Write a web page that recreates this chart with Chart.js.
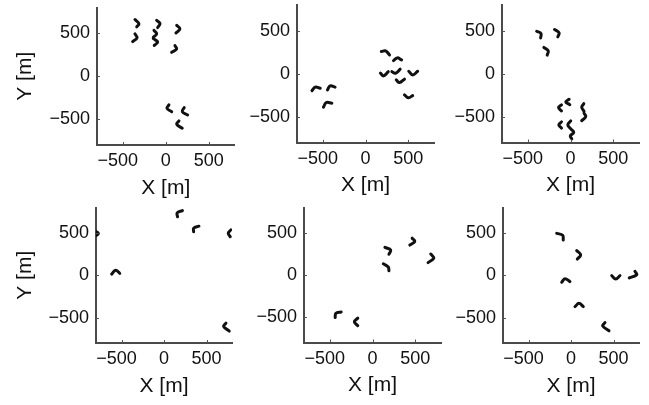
<!DOCTYPE html>
<html><head><meta charset="utf-8">
<script src="https://cdn.jsdelivr.net/npm/chart.js@4.4.1/dist/chart.umd.min.js"></script>
<style>
html,body{margin:0;padding:0;background:#fff;}
#wrap{position:relative;width:649px;height:405px;overflow:hidden;background:#fff;}
canvas{position:absolute;left:0;top:0;}
</style></head><body><div id="wrap">
<canvas id="c1" width="649" height="405"></canvas>
<canvas id="c2" width="649" height="405"></canvas>
<canvas id="c3" width="649" height="405"></canvas>
<canvas id="c4" width="649" height="405"></canvas>
<canvas id="c5" width="649" height="405"></canvas>
<canvas id="c6" width="649" height="405"></canvas>
</div>
<script>
// ---- data (metres) ----
const tickValues = [-500, 0, 500];
const tickLabels = ['\u2212500', '0', '500'];
const axisMin = -800, axisMax = 800;
const xTitle = 'X [m]';
const yTitle = 'Y [m]';

// each panel: list of short trajectory arcs, each arc = list of [x, y] points
const panel1 = [
  [[-358,660],[-312,610],[-338,575]],
  [[-358,493],[-335,446],[-385,403]],
  [[-106,652],[-67,613],[-94,566]],
  [[-137,535],[-106,493],[-145,453]],
  [[-145,438],[-94,399],[-134,359]],
  [[127,593],[165,551],[119,505]],
  [[107,356],[127,318],[69,278]],
  [[37,-333],[14,-372],[69,-413]],
  [[215,-365],[192,-411],[255,-450]],
  [[154,-520],[127,-558],[192,-605]]
];
const panel2 = [
  [[-625,-194],[-587,-154],[-529,-166]],
  [[-444,-186],[-413,-139],[-355,-154]],
  [[-491,-386],[-459,-333],[-393,-340]],
  [[185,259],[235,267],[281,220]],
  [[327,154],[371,186],[421,162]],
  [[174,8],[212,-23],[266,26]],
  [[308,27],[351,8],[405,55]],
  [[359,-70],[397,-101],[455,-61]],
  [[505,31],[551,-12],[609,31]],
  [[455,-244],[501,-278],[551,-252]]
];
const panel3 = [
  [[-395,495],[-345,469],[-349,417]],
  [[-186,515],[-133,476],[-148,429]],
  [[-311,306],[-260,267],[-272,217]],
  [[-105,-363],[-140,-394],[-105,-433]],
  [[-16,-297],[-55,-328],[-8,-360]],
  [[155,-348],[131,-390],[158,-436]],
  [[158,-459],[178,-499],[131,-545]],
  [[-105,-560],[-136,-595],[-105,-633]],
  [[3,-549],[-31,-595],[3,-641],[38,-682],[-2,-723],[15,-757]]
];
const panel4 = [
  [[-830,535],[-771,493],[-830,450]],
  [[-616,14],[-570,60],[-520,22]],
  [[217,764],[155,737],[159,690]],
  [[411,579],[349,556],[349,513]],
  [[787,536],[756,498],[779,455]],
  [[729,-566],[701,-604],[768,-659]]
];
const panel5 = [
  [[-366,-438],[-428,-454],[-436,-504]],
  [[-172,-511],[-212,-555],[-172,-601]],
  [[145,328],[212,296],[192,246]],
  [[126,132],[184,94],[192,50]],
  [[463,436],[494,398],[436,355]],
  [[680,249],[715,199],[649,147]]
];
const panel6 = [
  [[-168,495],[-98,472],[-91,417]],
  [[67,291],[114,241],[74,191]],
  [[-109,-83],[-71,-40],[-12,-75]],
  [[47,-371],[94,-332],[145,-371]],
  [[479,-5],[526,-43],[576,-5]],
  [[753,46],[773,7],[686,-32]],
  [[400,-558],[373,-598],[447,-656]]
];

// ---- layout (pixel boxes of each plot area) ----
const panels = [panel1, panel2, panel3, panel4, panel5, panel6];
const boxes = [
  {l:97,  t:7.5, r:234.5, b:145,   yt:true},
  {l:297, t:5,   r:434,   b:142.8, yt:false},
  {l:502, t:5,   r:639,   b:142.5, yt:false},
  {l:96,  t:207.5, r:232, b:343,   yt:true},
  {l:304, t:207.5, r:441, b:342.5, yt:false},
  {l:503, t:207.5, r:639, b:343,   yt:false}
];

const FONT = '"Liberation Sans", Arial, Helvetica, sans-serif';
const TXT = '#111';
const XH = 55.5;

const innerTicks = {
  id: 'innerTicks',
  afterDatasetsDraw(chart) {
    const ctx = chart.ctx, xs = chart.scales.x, ys = chart.scales.y, a = chart.chartArea;
    ctx.save();
    ctx.strokeStyle = '#555';
    ctx.lineWidth = 1;
    ctx.beginPath();
    tickValues.forEach(v => {
      const px = Math.round(xs.getPixelForValue(v)) + 0.5;
      ctx.moveTo(px, a.bottom); ctx.lineTo(px, a.bottom - 3);
      const py = Math.round(ys.getPixelForValue(v)) + 0.5;
      ctx.moveTo(a.left, py); ctx.lineTo(a.left + 3, py);
    });
    ctx.stroke();
    ctx.restore();
  }
};

function labelFor(v, isX) {
  const i = tickValues.indexOf(v);
  const s = i >= 0 ? tickLabels[i] : '';
  return (isX && v < 0) ? s + '\u2007' : s;
}

panels.forEach((arcs, k) => {
  const b = boxes[k];
  const wy = b.yt ? (b.l - 13) : 60;
  const datasets = arcs.map(arc => ({
    data: arc.map(p => ({x: p[0], y: p[1]})),
    showLine: true,
    borderColor: '#111',
    borderWidth: 3,
    borderCapStyle: 'round',
    borderJoinStyle: 'round',
    pointRadius: 0,
    tension: 0.4,
    fill: false
  }));
  new Chart(document.getElementById('c' + (k + 1)), {
    type: 'scatter',
    data: { datasets },
    options: {
      responsive: false,
      animation: false,
      devicePixelRatio: 1,
      layout: { padding: { left: b.l - wy, top: b.t, right: 649 - b.r, bottom: 405 - b.b - XH } },
      plugins: { legend: { display: false }, tooltip: { enabled: false } },
      scales: {
        x: {
          type: 'linear', position: 'bottom', min: axisMin, max: axisMax,
          afterBuildTicks: s => { s.ticks = tickValues.map(v => ({ value: v })); },
          afterFit: s => { s.height = XH; s.paddingLeft = 0; s.paddingRight = 0; },
          grid: { display: false, drawTicks: false },
          border: { display: true, color: '#4a4a4a', width: 2 },
          ticks: { padding: 5.5, color: TXT, autoSkip: false, maxRotation: 0,
                   font: { family: FONT, size: 18 }, callback: v => labelFor(v, true) },
          title: { display: true, text: xTitle, color: TXT, padding: 0,
                   font: { family: FONT, size: 21 } }
        },
        y: {
          type: 'linear', position: 'left', min: axisMin, max: axisMax,
          afterBuildTicks: s => { s.ticks = tickValues.map(v => ({ value: v })); },
          afterFit: s => { s.width = wy; s.paddingTop = 0; s.paddingBottom = 0; },
          grid: { display: false, drawTicks: false },
          border: { display: true, color: '#4a4a4a', width: 2 },
          ticks: { padding: 7, color: TXT, autoSkip: false,
                   font: { family: FONT, size: 18 }, callback: v => labelFor(v, false) },
          title: { display: b.yt, text: yTitle, color: TXT, padding: { top: 0, bottom: 0 },
                   font: { family: FONT, size: 21 } }
        }
      }
    },
    plugins: [innerTicks]
  });
});
</script>
</body></html>
